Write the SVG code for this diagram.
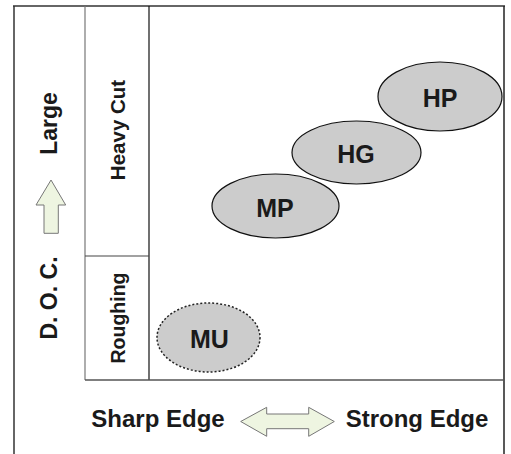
<svg xmlns="http://www.w3.org/2000/svg" width="511" height="454" viewBox="0 0 511 454">
<style>
.t{font-family:"Liberation Sans",Arial,sans-serif;font-weight:bold;fill:#1a1a1a;text-anchor:middle}
.el{fill:#cccccc;stroke:#111;stroke-width:1.2}
.arr{fill:#eef5e1;stroke:#777;stroke-width:1}
</style>
<rect width="511" height="454" fill="#fff"/>
<g id="frame" fill="none">
<line x1="14" y1="6" x2="14" y2="454" stroke="#666" stroke-width="2"/>
<line x1="13" y1="6" x2="505" y2="6" stroke="#333" stroke-width="1.5"/>
<line x1="504" y1="6" x2="504" y2="454" stroke="#222" stroke-width="1.5"/>
<line x1="85" y1="6" x2="85" y2="380" stroke="#777" stroke-width="1.2"/>
<line x1="149" y1="6" x2="149" y2="380" stroke="#111" stroke-width="1.2"/>
<line x1="85" y1="256" x2="149" y2="256" stroke="#444" stroke-width="1.2"/>
<line x1="85" y1="380" x2="504" y2="380" stroke="#555" stroke-width="1.5"/>
</g>
<g id="axis-y">
<text class="t" font-size="23" transform="translate(57,123.5) rotate(-90)">Large</text>
<polygon class="arr" points="51,180 65.7,205 58.3,205 58.3,233.3 44,233.3 44,205 36,205"/>
<text class="t" font-size="23" transform="translate(57,298) rotate(-90)">D. O. C.</text>
</g>
<g id="row-heavy">
<text class="t" font-size="20.5" transform="translate(125,130) rotate(-90)">Heavy Cut</text>
</g>
<g id="row-rough">
<text class="t" font-size="19.5" transform="translate(125,318) rotate(-90)">Roughing</text>
</g>
<g id="node-HP">
<ellipse class="el" cx="440" cy="96.5" rx="62" ry="34.5"/>
<text class="t" font-size="25" x="440" y="107">HP</text>
</g>
<g id="node-HG">
<ellipse class="el" cx="356.5" cy="152.5" rx="64.5" ry="31.5"/>
<text class="t" font-size="25" x="356" y="163">HG</text>
</g>
<g id="node-MP">
<ellipse class="el" cx="275.5" cy="206" rx="63.5" ry="32"/>
<text class="t" font-size="25" x="275" y="217">MP</text>
</g>
<g id="node-MU">
<ellipse cx="208.5" cy="337.5" rx="51.5" ry="34.5" fill="#cccccc" stroke="#222" stroke-width="1.5" stroke-dasharray="2,2"/>
<text class="t" font-size="25" x="209.5" y="348">MU</text>
</g>
<g id="axis-x">
<text class="t" font-size="24" x="158" y="427">Sharp Edge</text>
<polygon class="arr" points="240.7,421.5 266.7,407.3 266.7,414 308.7,414 308.7,407.3 334.3,421.5 308.7,436.3 308.7,428.7 266.7,428.7 266.7,436.3"/>
<text class="t" font-size="24" x="417" y="427">Strong Edge</text>
</g>
<g id="connectors"/>
</svg>
